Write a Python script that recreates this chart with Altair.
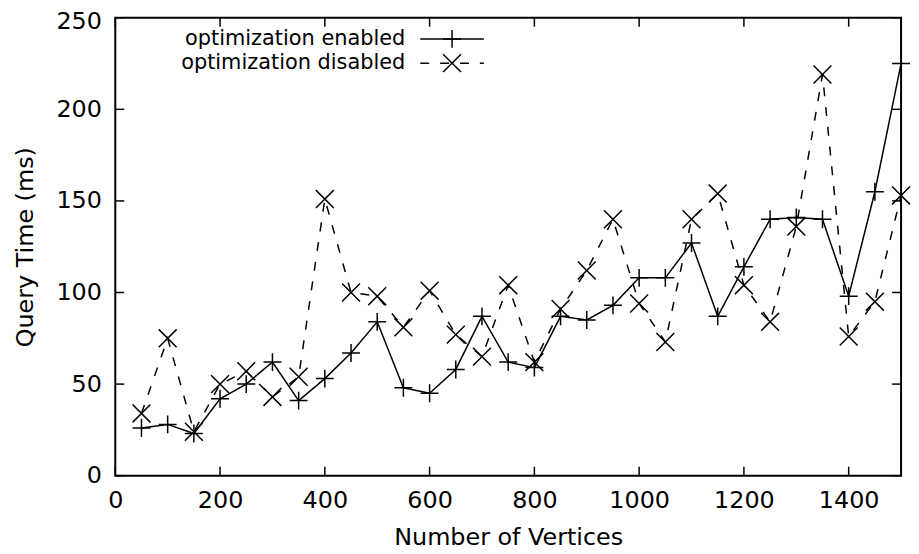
import altair as alt
import pandas as pd

# ---- data ----
vertices = [50, 100, 150, 200, 250, 300, 350, 400, 450, 500,
            550, 600, 650, 700, 750, 800, 850, 900, 950, 1000,
            1050, 1100, 1150, 1200, 1250, 1300, 1350, 1400, 1450, 1500]
enabled = [26, 28, 23, 42, 50, 62, 41, 53, 67, 84,
           48, 45, 58, 87, 62, 59, 87, 85, 93, 108,
           108, 127, 87, 114, 140, 141, 140, 98, 155, 225]
disabled = [34, 75, 24, 50, 57, 43, 54, 151, 100, 98,
            81, 101, 77, 65, 104, 62, 91, 112, 140, 94,
            73, 140, 154, 104, 84, 136, 219, 76, 95, 153]
series_names = ["optimization enabled", "optimization disabled"]
x_ticks = [0, 200, 400, 600, 800, 1000, 1200, 1400]
y_ticks = [0, 50, 100, 150, 200, 250]

W, H = 791, 461
FONT = "DejaVu Sans"
PLUS = "M-1,0L1,0M0,-1L0,1"
CROSS = "M-1,-1L1,1M-1,1L1,-1"
DASH = [9, 11]
LW = 1.5
MSIZE = 324

df_en = pd.DataFrame({"x": vertices, "y": enabled})
df_dis = pd.DataFrame({"x": vertices, "y": disabled})
df_xt = pd.DataFrame({"x": x_ticks})
df_yt = pd.DataFrame({"y": y_ticks})

xscale = alt.Scale(domain=[0, 1500], nice=False, zero=False)
yscale = alt.Scale(domain=[0, 250], nice=False, zero=False)

xaxis = alt.Axis(values=x_ticks, format="d", title="Number of Vertices", grid=False, domain=False,
                 ticks=False, labelFontSize=24, labelFont=FONT, labelColor="black",
                 labelPadding=13, titleFont=FONT, titleFontSize=24, titleFontWeight="normal",
                 titleColor="black", titleBaseline="alphabetic", titleY=69, titleX=W / 2,
                 titleAlign="center", labelFlush=False)
yaxis = alt.Axis(values=y_ticks, format="d", title="Query Time (ms)", grid=False, domain=False,
                 ticks=False, labelFontSize=24, labelFont=FONT, labelColor="black",
                 labelPadding=14, titleFont=FONT, titleFontSize=24, titleFontWeight="normal",
                 titleColor="black", titleBaseline="alphabetic", titleX=-83, titleY=H / 2,
                 titleAlign="center", titleAngle=270, labelFlush=False,
                 labelOffset={"condition": {"test": "datum.value == 250", "value": 4}, "value": 0})

X = alt.X("x:Q", scale=xscale, axis=xaxis)
Y = alt.Y("y:Q", scale=yscale, axis=yaxis)

line_en = alt.Chart(df_en).mark_line(color="black", strokeWidth=LW).encode(x=X, y=Y)
line_dis = alt.Chart(df_dis).mark_line(color="black", strokeWidth=LW, strokeDash=DASH).encode(x=X, y=Y)
pts_en = alt.Chart(df_en).mark_point(shape=PLUS, size=MSIZE, filled=False, color="black",
                                     strokeWidth=LW, opacity=1).encode(x=X, y=Y)
pts_dis = alt.Chart(df_dis).mark_point(shape=CROSS, size=MSIZE, filled=False, color="black",
                                       strokeWidth=LW, opacity=1).encode(x=X, y=Y)

TL = 9
tick_style = dict(color="black", strokeWidth=1.5)
ticks_bottom = alt.Chart(df_xt).mark_rule(**tick_style).encode(x=X, y=alt.value(H), y2=alt.value(H - TL))
ticks_top = alt.Chart(df_xt).mark_rule(**tick_style).encode(x=X, y=alt.value(0), y2=alt.value(TL))
ticks_left = alt.Chart(df_yt).mark_rule(**tick_style).encode(y=Y, x=alt.value(0), x2=alt.value(TL))
ticks_right = alt.Chart(df_yt).mark_rule(**tick_style).encode(y=Y, x=alt.value(W), x2=alt.value(W - TL))

# ---- legend (inside, top-left) ----
leg_text_x, leg_l0, leg_l1, leg_mid = 292, 307, 371, 339
rows = [21.3, 45.7]
legend_layers = []
for i, (name, dash, shape) in enumerate(zip(series_names, [None, DASH], [PLUS, CROSS])):
    d = pd.DataFrame({"label": [name]})
    legend_layers.append(
        alt.Chart(d).mark_text(align="right", baseline="middle", font=FONT, fontSize=21,
                               color="black").encode(text="label:N", x=alt.value(leg_text_x),
                                                     y=alt.value(rows[i])))
    rule_kw = dict(color="black", strokeWidth=LW)
    if dash:
        rule_kw["strokeDash"] = dash
    legend_layers.append(
        alt.Chart(d).mark_rule(**rule_kw).encode(x=alt.value(leg_l0), x2=alt.value(leg_l1),
                                                 y=alt.value(rows[i])))
    legend_layers.append(
        alt.Chart(d).mark_point(shape=shape, size=MSIZE, filled=False, color="black",
                                strokeWidth=LW, opacity=1).encode(x=alt.value(leg_mid),
                                                                  y=alt.value(rows[i])))

chart = alt.layer(
    ticks_bottom, ticks_top, ticks_left, ticks_right,
    line_en, line_dis, pts_en, pts_dis, *legend_layers
).properties(
    width=W, height=H,
    background="white",
    autosize=alt.AutoSizeParams(type="none"),
    padding={"left": 108, "top": 8, "right": 10, "bottom": 73},
).configure_view(
    stroke="black", strokeWidth=2
)

chart.save("out.html", embed_options={"renderer": "svg", "actions": False})
